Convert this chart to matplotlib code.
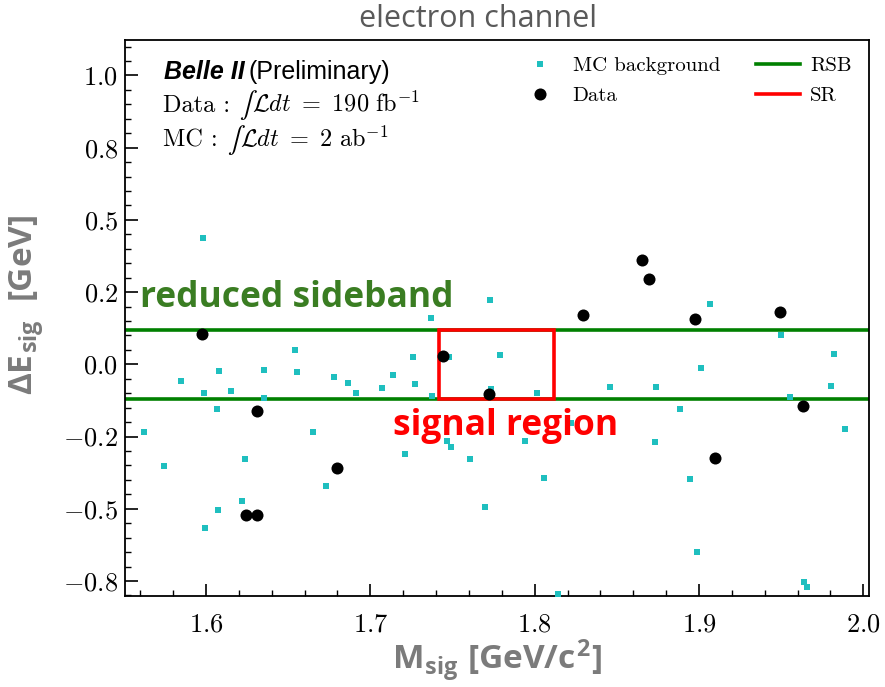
import matplotlib
matplotlib.use("Agg")
import matplotlib.pyplot as plt
from matplotlib.patches import Rectangle
from matplotlib.lines import Line2D
from matplotlib.ticker import MultipleLocator, FuncFormatter

plt.rcParams['mathtext.fontset'] = 'custom'
plt.rcParams['mathtext.rm'] = 'cmr10'
plt.rcParams['mathtext.it'] = 'cmmi10'
plt.rcParams['mathtext.bf'] = 'cmb10'
plt.rcParams['mathtext.cal'] = 'cmsy10'
plt.rcParams['mathtext.sf'] = 'Open Sans:bold'
plt.rcParams['mathtext.fallback'] = 'cm'
plt.rcParams['font.family'] = ['cmr10', 'DejaVu Serif']
plt.rcParams['axes.formatter.use_mathtext'] = True
plt.rcParams['axes.unicode_minus'] = True

# MC background points
mc_x = [1.5982, 1.5848, 1.6077, 1.5986, 1.6150, 1.6069, 1.5621, 1.6351, 1.6351, 1.6542,
        1.6554, 1.6649, 1.6779, 1.6862, 1.6911, 1.7071, 1.7136, 1.7262, 1.7274, 1.7371,
        1.7376, 1.7477, 1.7729, 1.7736, 1.7789, 1.7465, 1.7491, 1.8015, 1.8459, 1.8739,
        1.9013, 1.9068, 1.8885, 1.9502, 1.9820, 1.9806, 1.9554, 1.9887, 1.8220, 1.7942,
        1.8733, 1.5746, 1.6239, 1.6219, 1.6071, 1.5992, 1.6729, 1.7213, 1.7607, 1.7698,
        1.8059, 1.8946, 1.8990, 1.8142, 1.9641, 1.9656]
mc_y = [0.439, -0.056, -0.023, -0.098, -0.093, -0.153, -0.235, -0.019, -0.115, 0.051,
        -0.025, -0.235, -0.045, -0.063, -0.098, -0.081, -0.038, 0.025, -0.067, 0.161,
        -0.108, 0.025, 0.223, -0.085, 0.033, -0.264, -0.285, -0.098, -0.079, -0.079,
        -0.014, 0.209, -0.153, 0.101, 0.037, -0.075, -0.112, -0.224, -0.202, -0.266,
        -0.269, -0.352, -0.326, -0.472, -0.503, -0.565, -0.420, -0.311, -0.327, -0.494,
        -0.393, -0.397, -0.648, -0.795, -0.754, -0.772]

# Data points
data_x = [1.5976, 1.6312, 1.7441, 1.7725, 1.8654, 1.8698, 1.8296, 1.8976, 1.9494, 1.9634,
          1.6799, 1.6243, 1.6312, 1.9096]
data_y = [0.105, -0.161, 0.029, -0.104, 0.361, 0.295, 0.170, 0.157, 0.181, -0.145,
          -0.360, -0.520, -0.520, -0.323]

# Regions
rsb_levels = [0.12, -0.12]
sr_x = [1.742, 1.812]
sr_y = [-0.12, 0.12]

MC_COLOR = '#1fbfbf'
RSB_COLOR = '#008000'
SR_COLOR = '#ff0000'

fig = plt.figure(figsize=(8.85, 6.87), dpi=100)
ax = fig.add_axes([0.1412, 0.1325, 0.8408, 0.8093])

ax.scatter(mc_x, mc_y, marker='s', s=18, color=MC_COLOR, linewidths=0, zorder=3)
ax.scatter(data_x, data_y, marker='o', s=75, color='black', linewidths=0, zorder=4)
for lv in rsb_levels:
    ax.axhline(lv, color=RSB_COLOR, lw=2.6, zorder=2)
ax.add_patch(Rectangle((sr_x[0], sr_y[0]), sr_x[1] - sr_x[0], sr_y[1] - sr_y[0],
                       fill=False, edgecolor=SR_COLOR, lw=2.6, zorder=2.5))

ax.set_xlim(1.5507, 2.0035)
ax.set_ylim(-0.8017, 1.1229)
ax.xaxis.set_major_locator(MultipleLocator(0.1))
ax.xaxis.set_minor_locator(MultipleLocator(0.02))
ax.yaxis.set_major_locator(MultipleLocator(0.25))
ax.yaxis.set_minor_locator(MultipleLocator(0.05))
fmt = FuncFormatter(lambda v, p: r'$\mathrm{%.1f}$' % v)
ax.yaxis.set_major_formatter(fmt)
ax.xaxis.set_major_formatter(fmt)
ax.tick_params(which='both', direction='in', top=False, right=False, labelsize=19)
ax.tick_params(which='major', length=9, width=1.2)
ax.tick_params(which='minor', length=4.5, width=1.0)
ax.tick_params(axis='x', pad=12)
ax.tick_params(axis='y', pad=5)
for sp in ax.spines.values():
    sp.set_linewidth(1.3)

gray = '#7b7b7b'
ax.set_xlabel(r'M$_{\mathsf{sig}}$ [GeV/c$^{\mathsf{2}}$]', fontsize=24, fontweight='bold',
              color=gray, family='Open Sans')
ax.xaxis.set_label_coords(0.5, -0.075, transform=ax.transAxes)
ax.xaxis.label.set_va('top')
ax.set_ylabel(r'ΔE$_{\mathsf{sig}}$  [GeV]', fontsize=24, fontweight='bold',
              color=gray, family='Open Sans')
ax.yaxis.set_label_coords(-0.105, 0.523)
fig.text(0.540, 0.972, 'electron channel', ha='center', va='center', fontsize=22,
         color='#595959', family='Open Sans')

ax.text(0.0525, 0.942, 'Belle II', transform=ax.transAxes, fontsize=18,
        fontweight='bold', style='italic', family='Liberation Sans', va='center')
ax.text(0.1665, 0.942, '(Preliminary)', transform=ax.transAxes, fontsize=18,
        family='Liberation Sans', va='center')

renderer = fig.canvas.get_renderer()


def chain(x0, y0, pieces):
    x = x0
    for s, kw, gap_px in pieces:
        t = ax.text(x, y0, s, transform=ax.transAxes, va='baseline', ha='left',
                    **({'fontsize': 17.5} | kw))
        bb = t.get_window_extent(renderer)
        x = ax.transAxes.inverted().transform((bb.x1 + gap_px, bb.y0))[0]


chain(0.0515, 0.871, [('Data :', {}, 9),
                      ('∫', {'family': 'STIXGeneral', 'fontsize': 19}, 1),
                      (r'$\mathcal{L}dt\ =\ 190\ \mathrm{fb}^{-1}$', {}, 0)])
chain(0.0515, 0.808, [('MC :', {}, 9),
                      ('∫', {'family': 'STIXGeneral', 'fontsize': 19}, 1),
                      (r'$\mathcal{L}dt\ =\ 2\ \mathrm{ab}^{-1}$', {}, 0)])

ax.text(1.5598, 0.2, 'reduced sideband', fontsize=25.5, fontweight='bold',
        color='#3a7d22', family='Open Sans', va='baseline', ha='left')
ax.text(1.7826, -0.244, 'signal region', fontsize=25.5, fontweight='bold',
        color=SR_COLOR, family='Open Sans', va='baseline', ha='center')

h_mc = Line2D([], [], marker='s', ls='none', color=MC_COLOR, markersize=4.2, mew=0)
h_data = Line2D([], [], marker='o', ls='none', color='black', markersize=8.7, mew=0)
h_rsb = Line2D([], [], color=RSB_COLOR, lw=2.6)
h_sr = Line2D([], [], color=SR_COLOR, lw=2.6)
leg1 = ax.legend([h_mc, h_data], ['MC background', 'Data'], loc='upper left',
                 bbox_to_anchor=(0.526, 0.985), frameon=False, fontsize=15,
                 handlelength=1.5, handletextpad=0.8, labelspacing=0.55, borderaxespad=0)
ax.add_artist(leg1)
ax.legend([h_rsb, h_sr], ['RSB', 'SR'], loc='upper left',
          bbox_to_anchor=(0.837, 0.985), frameon=False, fontsize=15,
          handlelength=2.1, handletextpad=0.5, labelspacing=0.55, borderaxespad=0)

fig.savefig('out.png', dpi=100)
